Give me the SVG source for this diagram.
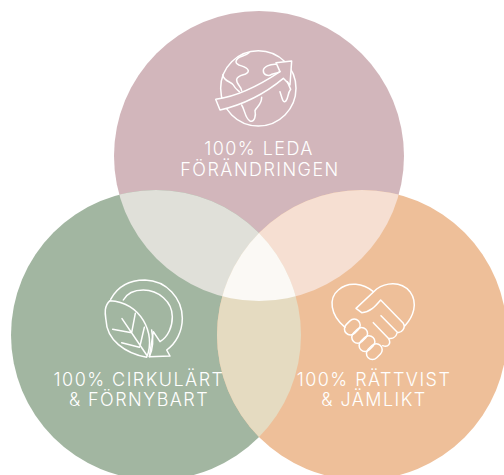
<svg xmlns="http://www.w3.org/2000/svg" width="504" height="475" viewBox="0 0 504 475">
<style>
.lbl{font-family:"Inter","Liberation Sans",sans-serif;font-size:18px;font-weight:300;letter-spacing:1.45px;fill:#fff;text-anchor:middle}
.ic{fill:none;stroke:#fff;stroke-width:4.5;stroke-linejoin:round;stroke-linecap:round}
</style>
<defs>
<clipPath id="cT"><circle cx="259" cy="156" r="145"/></clipPath>
<clipPath id="cL"><circle cx="156" cy="335" r="145"/></clipPath>
</defs>
<rect width="504" height="475" fill="#fff"/>
<g id="circles">
<circle id="top" cx="259" cy="156" r="145" fill="#d2b6bb"/>
<circle id="left" cx="156" cy="335" r="145" fill="#a2b6a1"/>
<circle id="right" cx="362" cy="335" r="145" fill="#eebf99"/>
<g clip-path="url(#cT)"><circle cx="156" cy="335" r="145" fill="#e0e0d9"/><circle cx="362" cy="335" r="145" fill="#f6dfd2"/></g>
<g clip-path="url(#cL)"><circle cx="362" cy="335" r="145" fill="#e5dbc1"/></g>
<g clip-path="url(#cT)"><g clip-path="url(#cL)"><circle cx="362" cy="335" r="145" fill="#fbf9f5"/></g></g>
</g>
<g id="node-leda">
<g transform="translate(200 40) scale(.3333)" class="ic">
<circle cx="175" cy="145" r="113"/>
<path d="M47 178 C110 170 180 135 240 95 L228 68 L275 63 L270 135 L250 115 C190 165 125 195 60 210 Z" fill="#d2b6bb"/>
<path d="M147 38 C135 50 108 48 108 65 C108 80 140 75 145 92 C145 108 115 100 110 118 C108 132 125 140 125 152"/>
<path d="M68 105 C72 125 95 125 100 135 C105 145 112 150 118 155"/>
<path d="M228 73 C210 72 190 80 190 92 C190 105 205 110 215 103 C225 100 232 100 240 95"/>
<path d="M125 195 C135 210 135 235 150 243 C165 248 168 225 165 212 C170 200 185 195 185 172"/>
<path d="M240 155 C245 170 248 188 255 185 C265 180 262 160 272 148 L262 125"/>
</g>
<text class="lbl" x="259" y="155">100% LEDA</text>
<text class="lbl" x="260" y="176">FÖRÄNDRINGEN</text>
</g>
<g id="node-cirkulart">
<g transform="translate(90 270) scale(.3333)" class="ic">
<path d="M62 88 C85 45 125 30 165 30 C230 32 277 85 277 145 C277 185 258 220 230 240 L240 258 L178 260 L190 185 L210 215 C235 200 247 170 247 140 C247 95 205 60 160 60 C130 60 110 72 100 90"/>
<path d="M60 92 C40 110 46 135 48 150 C50 210 105 250 170 262 C200 190 150 95 60 92 Z"/>
<path d="M178 260 C190 235 190 205 185 180"/>
<path d="M96 146 L170 255 M136 130 L125 188 M68 178 L125 188 M95 218 L148 232 M163 172 L150 228"/>
</g>
<text class="lbl" x="139" y="386">100% CIRKULÄRT</text>
<text class="lbl" x="139" y="406">&amp; FÖRNYBART</text>
</g>
<g id="node-rattvist">
<g transform="translate(320 275) scale(.3333)" class="ic">
<path d="M75 157 C30 120 25 70 55 45 C85 18 130 25 160 50"/>
<path d="M255 152 C280 125 295 85 270 50 C240 15 195 25 170 42 L108 100 L125 113 C150 112 165 95 182 75 L250 145 C258 158 245 175 232 172 L183 122 M232 172 C228 188 215 192 205 190 L160 143 M205 190 C215 205 205 218 188 212"/>
<rect x="71" y="138" width="52" height="36" rx="18" transform="rotate(-45 97 156)"/>
<rect x="93" y="163" width="52" height="36" rx="18" transform="rotate(-45 119 181)"/>
<rect x="115" y="188" width="52" height="36" rx="18" transform="rotate(-45 141 206)"/>
<rect x="137" y="212" width="52" height="36" rx="18" transform="rotate(-45 163 230)"/>
</g>
<text class="lbl" x="374" y="386">100% RÄTTVIST</text>
<text class="lbl" x="374" y="406">&amp; JÄMLIKT</text>
</g>
</svg>
